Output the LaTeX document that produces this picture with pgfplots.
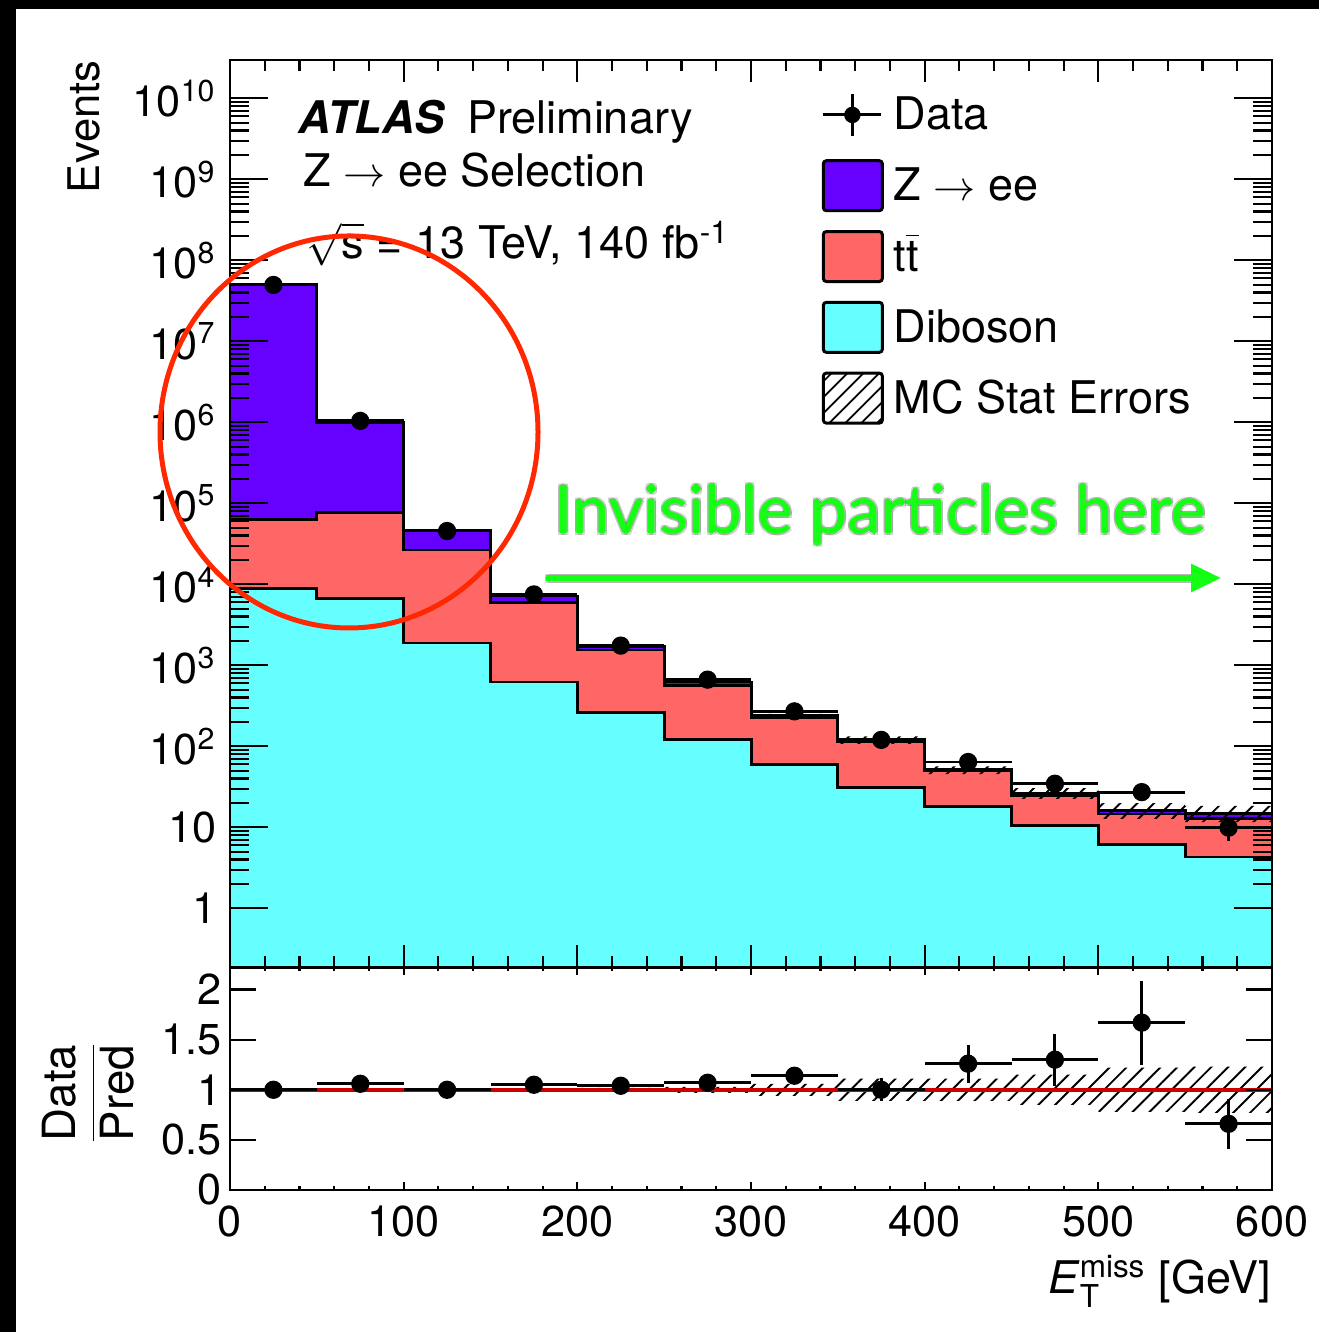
\documentclass[border=0pt]{standalone}
\usepackage{amsmath}
\usepackage{fontspec}
\setmainfont{TeX Gyre Heros}
\newfontfamily\latofont{Lato}[FakeBold=0.6]
\usepackage{pgfplots}
\pgfplotsset{compat=1.18}
\usetikzlibrary{patterns.meta,arrows.meta}
\definecolor{zcol}{RGB}{102,0,255}
\definecolor{ttcol}{RGB}{255,102,102}
\definecolor{dbcol}{RGB}{102,255,255}
\definecolor{ratiored}{RGB}{204,0,0}
\definecolor{circred}{RGB}{255,40,0}
\definecolor{annogreen}{RGB}{20,255,20}
\newcommand{\greenText}{\resizebox{6.52cm}{!}{\latofont Invisible particles here}}
\newcommand{\ttbar}{t$\overline{\mbox{t}}$}
\begin{document}
\begin{tikzpicture}
\path[use as bounding box] (0,0) rectangle (13.19,13.32);
\fill[black] (0,0) rectangle (13.19,13.32);
\fill[white] (0.16,0) rectangle (13.19,13.23);

% ---------------- main panel ----------------
\begin{axis}[
  at={(2.30cm,3.645cm)}, anchor=south west,
  scale only axis, width=10.42cm, height=9.075cm,
  xmin=0, xmax=600, ymode=log, ymin=0.186, ymax=2.97e10,
  axis on top,
  font=\fontsize{12.8}{15}\selectfont,
  xtick={0,100,...,600}, minor x tick num=4, xticklabels={},
  ytick={1,10,100,1000,1e4,1e5,1e6,1e7,1e8,1e9,1e10},
  yticklabels={1,10,10\textsuperscript{2},10\textsuperscript{3},10\textsuperscript{4},10\textsuperscript{5},10\textsuperscript{6},10\textsuperscript{7},10\textsuperscript{8},10\textsuperscript{9},10\textsuperscript{10}},
  tick align=inside, tick pos=both,
  axis line style={line width=0.6pt},
  every tick/.style={black, line width=0.6pt},
  major tick length=3.8mm, minor tick length=1.9mm,
  xtick style={/pgfplots/major tick length=2.2mm,/pgfplots/minor tick length=1.1mm},
  tick label style={font=\fontsize{12.3}{14}\selectfont},
  yticklabel style={anchor=east, inner sep=0pt, xshift=-1.3mm},
  ylabel={Events},
  every axis y label/.style={at={(axis description cs:-0.1248,1)}, anchor=base east, rotate=90, inner sep=0pt, font=\fontsize{12.4}{15}\selectfont},
  legend style={at={(axis description cs:0.568,0.9725)}, anchor=north west, draw=none, fill=none,
    inner sep=0pt, outer sep=0pt, row sep=1.08mm, column sep=1.0mm,
    font=\fontsize{12.8}{15}\selectfont,
    nodes={inner sep=0pt, text height=4.5mm, text depth=1.5mm}},
  legend cell align=left,
]
\addlegendimage{legend image code/.code={
  \draw[black, line width=0.85pt] (0mm,0mm) -- (5.8mm,0mm);
  \draw[black, line width=0.85pt] (2.9mm,-2.1mm) -- (2.9mm,2.1mm);
  \fill[black] (2.9mm,0mm) circle (0.75mm);}}
\addlegendentry{Data}
\addlegendimage{legend image code/.code={
  \draw[fill=zcol, line width=0.85pt, rounded corners=0.3mm] (0mm,-2.5mm) rectangle (5.9mm,2.5mm);}}
\addlegendentry{Z $\rightarrow$ ee}
\addlegendimage{legend image code/.code={
  \draw[fill=ttcol, line width=0.85pt, rounded corners=0.3mm] (0mm,-2.5mm) rectangle (5.9mm,2.5mm);}}
\addlegendentry{\ttbar}
\addlegendimage{legend image code/.code={
  \draw[fill=dbcol, line width=0.85pt, rounded corners=0.3mm] (0mm,-2.5mm) rectangle (5.9mm,2.5mm);}}
\addlegendentry{Diboson}
\addlegendimage{legend image code/.code={
  \draw[pattern={Lines[angle=45,distance=3.2pt,line width=0.5pt]}, line width=0.85pt, rounded corners=0.3mm] (0mm,-2.5mm) rectangle (5.9mm,2.5mm);}}
\addlegendentry{MC Stat Errors}

% total stack (Z->ee on top)
\addplot[const plot, fill=zcol, draw=black, line width=0.85pt, forget plot] coordinates {
 (0,0.01) (0,4.96e7) (50,9.80e5) (100,4.55e4) (150,7.17e3) (200,1683) (250,622) (300,237)
 (350,120) (400,51) (450,26.5) (500,16.3) (550,15.0) (600,15.0) (600,0.01)};
% ttbar + diboson
\addplot[const plot, fill=ttcol, draw=black, line width=0.85pt, forget plot] coordinates {
 (0,0.01) (0,6.22e4) (50,7.59e4) (100,2.65e4) (150,6040) (200,1545) (250,571) (300,224)
 (350,113) (400,49.6) (450,25.0) (500,14.6) (550,13.0) (600,13.0) (600,0.01)};
% diboson
\addplot[const plot, fill=dbcol, draw=black, line width=0.85pt, forget plot] coordinates {
 (0,0.01) (0,8750) (50,6770) (100,1885) (150,622) (200,258) (250,120) (300,58.8)
 (350,31.4) (400,18.3) (450,10.4) (500,6.22) (550,4.3) (600,4.3) (600,0.01)};
% MC stat error band (upper edge left->right, lower edge right->left)
\addplot[pattern={Lines[angle=45,distance=3.4pt,line width=0.55pt]}, draw=none, forget plot] coordinates {
 (0,4.985e7) (50,4.985e7) (50,9.85e5) (100,9.85e5) (100,4.6e4) (150,4.6e4) (150,7.24e3) (200,7.24e3)
 (200,1717) (250,1717) (250,641) (300,641) (300,251) (350,251) (350,133) (400,133)
 (400,56.6) (450,56.6) (450,30.5) (500,30.5) (500,19.9) (550,19.9) (550,18.45) (600,18.45)
 (600,11.55) (550,11.55) (550,12.7) (500,12.7) (500,22.5) (450,22.5) (450,45.4) (400,45.4)
 (400,107) (350,107) (350,223) (300,223) (300,603) (250,603) (250,1649) (200,1649)
 (200,7.1e3) (150,7.1e3) (150,4.5e4) (100,4.5e4) (100,9.75e5) (50,9.75e5) (50,4.935e7) (0,4.935e7)};
% data
\addplot[only marks, mark=*, mark size=2.4pt, black, forget plot,
  error bars/.cd, x dir=both, x explicit, y dir=both, y explicit, error mark=none,
  error bar style={line width=0.85pt}]
  coordinates {
 (25,4.96e7) +- (25,7040)
 (75,1.04e6) +- (25,1020)
 (125,4.55e4) +- (25,213)
 (175,7.5e3) +- (25,87)
 (225,1750) +- (25,42)
 (275,665) +- (25,26)
 (325,270) +- (25,16.4)
 (375,120) +- (25,11)
 (425,64) +- (25,8)
 (475,34.5) +- (25,5.9)
 (525,27.2) +- (25,5.2)
 (575,9.9) +- (25,3.1)};
\end{axis}

% ---------------- ratio panel ----------------
\begin{axis}[
  at={(2.30cm,1.42cm)}, anchor=south west,
  scale only axis, width=10.42cm, height=2.225cm,
  xmin=0, xmax=600, ymin=0, ymax=2.22,
  axis on top,
  font=\fontsize{12.8}{15}\selectfont,
  xtick={0,100,...,600}, minor x tick num=4,
  xticklabels={0,100,200,300,400,500,600},
  ytick={0,0.5,1,1.5,2}, yticklabels={0,0.5,1,1.5,2},
  tick align=inside, tick pos=both,
  axis line style={line width=0.6pt},
  every tick/.style={black, line width=0.6pt},
  major tick length=2.6mm, minor tick length=1.3mm,
  xtick style={/pgfplots/major tick length=0.8mm,/pgfplots/minor tick length=0.4mm},
  tick label style={font=\fontsize{12.3}{14}\selectfont},
  xticklabel style={anchor=north, inner sep=0pt, yshift=-1.5mm},
  yticklabel style={anchor=east, inner sep=0pt, xshift=-0.8mm},
  xlabel={\textit{E}$_{\text{T}}^{\text{miss}}$ [GeV]},
  every axis x label/.style={at={(axis description cs:1,-0.463)}, anchor=base east, inner sep=0pt, font=\fontsize{12.8}{15}\selectfont},
  ylabel={$\dfrac{\text{Data}}{\text{Pred}}$},
  every axis y label/.style={at={(axis description cs:-0.1363,0.436)}, anchor=center, rotate=90, inner sep=0pt, font=\fontsize{13}{15}\selectfont},
]
\addplot[pattern={Lines[angle=45,distance=3.4pt,line width=0.55pt]}, draw=none, forget plot] coordinates {
 (0,1.005) (50,1.005) (50,1.005) (100,1.005) (100,1.01) (150,1.01) (150,1.01) (200,1.01)
 (200,1.02) (250,1.02) (250,1.03) (300,1.03) (300,1.06) (350,1.06) (350,1.11) (400,1.11)
 (400,1.11) (450,1.11) (450,1.15) (500,1.15) (500,1.22) (550,1.22) (550,1.23) (600,1.23)
 (600,0.77) (550,0.77) (550,0.78) (500,0.78) (500,0.85) (450,0.85) (450,0.89) (400,0.89)
 (400,0.89) (350,0.89) (350,0.94) (300,0.94) (300,0.97) (250,0.97) (250,0.98) (200,0.98)
 (200,0.99) (150,0.99) (150,0.99) (100,0.99) (100,0.995) (50,0.995) (50,0.995) (0,0.995)};
\addplot[ratiored, line width=1.2pt, forget plot] coordinates {(0,1) (600,1)};
\addplot[only marks, mark=*, mark size=2.4pt, black, forget plot,
  error bars/.cd, x dir=both, x explicit, y dir=both, y explicit, error mark=none,
  error bar style={line width=0.85pt}]
  coordinates {
 (25,1.0) +- (25,0.001)
 (75,1.06) +- (25,0.002)
 (125,1.0) +- (25,0.005)
 (175,1.05) +- (25,0.012)
 (225,1.04) +- (25,0.025)
 (275,1.07) +- (25,0.04)
 (325,1.14) +- (25,0.08)
 (375,1.0) +- (25,0.115)
 (425,1.26) +- (25,0.19)
 (475,1.30) +- (25,0.26)
 (525,1.67) +- (25,0.42)
 (575,0.66) +- (25,0.25)};
\end{axis}

% ---------------- labels and annotations ----------------
\begin{scope}[font=\fontsize{12.8}{15}\selectfont]
\node[anchor=base west, inner sep=0pt] at (2.98,11.98) {\textbf{\textit{ATLAS}}\hspace{0.48em}Preliminary};
\node[anchor=base west, inner sep=0pt] at (3.03,11.45) {Z $\rightarrow$ ee Selection};
\node[anchor=base west, inner sep=0pt] at (3.06,10.73) {$\sqrt{\mbox{s}}$ = 13 TeV, 140 fb\textsuperscript{-1}};
\end{scope}

\draw[circred, line width=0.5mm] (3.49,9.00) ellipse [x radius=1.89, y radius=1.96];

\foreach \dx/\dy in {0.5/-0.5,-0.35/0.35,0.45/0.35,-0.35/-0.45} {
  \node[anchor=base west, inner sep=0pt, text=black, opacity=0.15] at ([xshift=\dx pt,yshift=\dy pt]5.53,7.99) {\greenText};
  \draw[black, opacity=0.15, line width=0.6mm] ([xshift=\dx pt,yshift=\dy pt]5.46,7.54) -- ([xshift=\dx pt,yshift=\dy pt]11.95,7.54);
}
\node[anchor=base west, inner sep=0pt, text=annogreen] at (5.53,7.99) {\greenText};
\draw[annogreen, line width=0.6mm, -{Triangle[length=3mm,width=2.7mm]}] (5.46,7.54) -- (12.21,7.54);
\end{tikzpicture}
\end{document}
